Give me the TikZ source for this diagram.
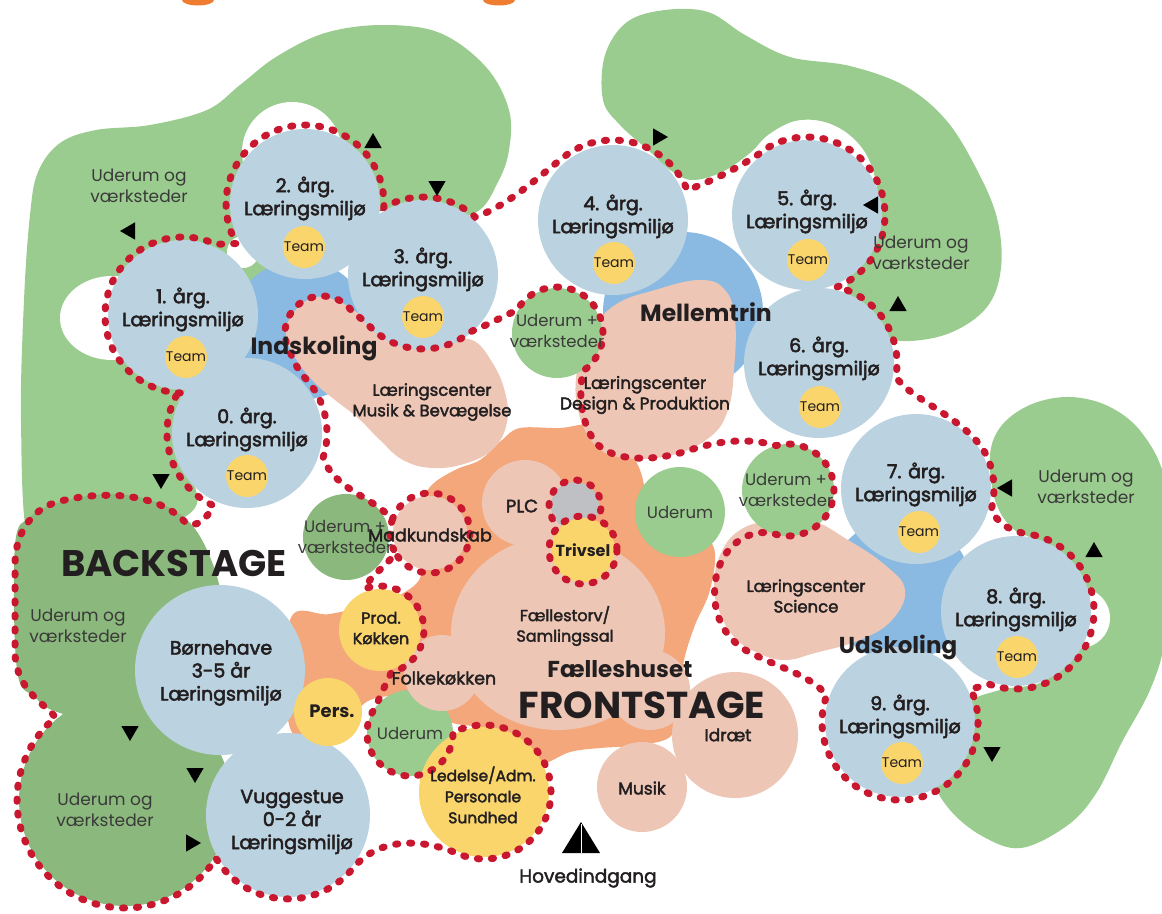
\documentclass[tikz,border=0pt]{standalone}
\usepackage{fontspec}
\setmainfont{Poppins}
\newfontfamily\medfont{Poppins}[FakeBold=2.2]
\newfontfamily\semifont{Poppins}[FakeBold=2.8]
\usetikzlibrary{calc,shapes.geometric}
\definecolor{lgreen}{HTML}{9BCC8F}
\definecolor{dgreen}{HTML}{8BB87D}
\definecolor{cblue}{HTML}{BBD2E0}
\definecolor{rblue}{HTML}{8ABAE2}
\definecolor{lpink}{HTML}{EDC6B5}
\definecolor{lorange}{HTML}{F3A77B}
\definecolor{lyellow}{HTML}{F9D56B}
\definecolor{dotred}{HTML}{C8172F}
\definecolor{lgray}{HTML}{BEC0C3}
\definecolor{txt}{HTML}{231F20}
\definecolor{txtg}{HTML}{3A3A39}
\definecolor{topor}{HTML}{EF7D31}
\newcommand\fsz[2]{\fontsize{#1}{#2}\selectfont}
\begin{document}
\begin{tikzpicture}[x=1pt,y=1pt,yscale=-1,
  dots/.style={draw=dotred, line width=7pt, line cap=round, dash pattern=on 2.2pt off 11.8pt},
  lbl/.style={align=center, inner sep=0pt, text=txt},
  cls/.style={lbl, font=\semifont\fsz{19}{23}},
  team/.style={lbl, font=\fsz{14}{16}},
  ud/.style={align=center, inner sep=0pt, text=txtg, font=\fsz{17}{21}},
  reg/.style={lbl, font=\bfseries\fsz{23.5}{26}},
  stage/.style={lbl, font=\bfseries\fsz{37}{40}},
  med/.style={lbl, font=\medfont\fsz{17}{20.5}},
  tri/.style={regular polygon, regular polygon sides=3, fill=black, minimum size=20pt, inner sep=0pt, draw=none}
]
\useasboundingbox (0,0) rectangle (1162,913);
\clip (0,0) rectangle (1162,913);

% coordinates
\coordinate (c0) at (247,433);
\coordinate (c1) at (183,315);
\coordinate (c2) at (305,204);
\coordinate (c3) at (423,275);
\coordinate (c4) at (613,220);
\coordinate (c5) at (807,215);
\coordinate (c6) at (819,363);
\coordinate (c7) at (916,489);
\coordinate (c8) at (1016,611);
\coordinate (c9) at (900,722);
\coordinate (ur) at (788,490);
\coordinate (ut) at (557,333);
\coordinate (mb) at (322,333);
\coordinate (mk) at (430,533);
\coordinate (pk) at (380,630);
\coordinate (ud) at (410,733);
\coordinate (le) at (484,792);
\coordinate (vu) at (288,815);
\coordinate (bh) at (220,670);
\coordinate (bs) at (125,800);
\coordinate (tv) at (583,550);
\coordinate (gr) at (575,506);

% orange bits at top
\fill[topor] (198,0) ellipse[x radius=16, y radius=5.5];
\fill[topor] (499,0) ellipse[x radius=16, y radius=5.5];

% green blobs
\fill[lgreen] plot[smooth cycle, tension=0.6] coordinates {(28,540) (21,420) (24,300) (30,215) (38,172) (60,143) (96,130) (150,125) (207,110) (240,85) (276,57) (325,33) (383,25) (440,33) (486,67) (509,110) (509,150) (498,182) (475,213) (420,222) (384,210) (345,240) (300,300) (250,340) (195,420) (192,470) (195,508) (150,530) (60,545)};
\fill[lgreen] plot[smooth cycle, tension=0.6] coordinates {(603,100) (605,55) (627,22) (665,10) (708,12) (745,35) (790,57) (850,66) (905,86) (946,120) (976,168) (997,218) (1001,268) (987,307) (950,333) (903,341) (872,330) (850,300) (850,270) (870,240) (878,200) (870,162) (852,137) (825,122) (795,121) (768,135) (750,153) (722,172) (692,180) (670,170) (648,150) (620,125)};
\fill[lgreen] plot[smooth cycle, tension=0.6] coordinates {(990,455) (1002,425) (1032,404) (1071,397) (1110,407) (1142,433) (1165,480) (1172,560) (1165,640) (1150,690) (1122,742) (1097,792) (1068,825) (1021,848) (982,836) (950,810) (935,780) (950,745) (965,705) (1000,690) (1045,680) (1060,640) (1060,590) (1040,545) (1012,528) (995,500)};

% white notches
\fill[white] (112,318) ellipse[x radius=52, y radius=42];
\fill[white] (292,152) circle[radius=50];
\fill[white] (243,252) circle[radius=16];
\fill[white] (1080,618) circle[radius=30];

% dark green backstage
\fill[dgreen] plot[smooth cycle, tension=0.6] coordinates {(15,545) (30,517) (57,503) (107,494) (150,500) (185,518) (207,550) (222,600) (226,680) (215,745) (150,735) (60,713) (35,697) (17,670)};
\fill[dgreen] (bs) circle[radius=106];

% blue regions
\fill[rblue] (300,330) circle[radius=70];
\fill[rblue] (683,312) circle[radius=80];
\fill[rblue] (900,590) circle[radius=72];

% orange centre
\fill[lorange] plot[smooth cycle, tension=0.6] coordinates {(290,620) (330,614) (380,603) (405,592) (420,578) (423,550) (418,515) (430,487) (455,470) (480,460) (502,440) (520,428) (560,428) (595,425) (625,447) (640,470) (655,520) (690,528) (714,548) (710,590) (695,625) (684,660) (678,700) (672,735) (640,745) (600,748) (570,752) (540,764) (520,748) (480,728) (450,722) (410,700) (370,700) (330,735) (290,728)};

% pink blobs
\fill[lpink] plot[smooth cycle, tension=0.7] coordinates {(290,318) (312,298) (340,302) (370,322) (405,345) (445,343) (472,340) (492,362) (505,392) (507,422) (494,448) (467,463) (433,468) (403,460) (380,440) (358,418) (335,400) (315,383) (298,362) (287,340)};
\fill[lpink] plot[smooth cycle, tension=0.7] coordinates {(577,370) (588,335) (615,305) (655,290) (700,280) (725,290) (735,320) (734,370) (728,410) (710,437) (672,455) (625,458) (595,445) (578,410)};
\fill[lpink] plot[smooth cycle, tension=0.7] coordinates {(721,553) (740,530) (770,521) (810,520) (848,540) (885,565) (905,590) (892,620) (860,640) (815,653) (785,660) (758,653) (735,638) (720,613) (714,585)};
\fill[lpink] (525,503) circle[radius=43];
\fill[lpink] (558,633) ellipse[x radius=107, y radius=97];
\fill[lpink] (650,690) circle[radius=40];
\fill[lpink] (735,735) circle[radius=63];
\fill[lpink] (642,787) circle[radius=45];
\fill[lpink] (mk) circle[radius=37];

% green circles
\fill[lgreen] (ut) circle[radius=45];
\fill[lgreen] (ur) circle[radius=46];
\fill[lgreen] (680,512) circle[radius=45];
\fill[dgreen] (346,537) circle[radius=43];
\fill[lgreen] (ud) circle[radius=43];
\fill[lpink] (442,673) circle[radius=38];

% classroom circles
\foreach \c in {c0,c1,c2,c3,c4,c5,c6,c7,c8,c9} \fill[cblue] (\c) circle[radius=75];
\fill[cblue] (bh) circle[radius=85];
\fill[cblue] (vu) circle[radius=82];

% yellow / gray circles
\fill[lgray] (gr) circle[radius=24];
\fill[lyellow] (tv) circle[radius=32];
\fill[lyellow] (pk) circle[radius=41];
\fill[lyellow] (328,712) circle[radius=34];
\fill[lyellow] (le) circle[radius=65];
\node[team, circle, fill=lyellow, minimum size=42pt] (tm1) at (186,357) {Team};
\node[team, circle, fill=lyellow, minimum size=42pt] (tm2) at (304,247) {Team};
\node[team, circle, fill=lyellow, minimum size=42pt] (tm3) at (423,317) {Team};
\node[team, circle, fill=lyellow, minimum size=42pt] (tm0) at (247,476) {Team};
\node[team, circle, fill=lyellow, minimum size=42pt] (tm4) at (614,263) {Team};
\node[team, circle, fill=lyellow, minimum size=42pt] (tm5) at (808,260) {Team};
\node[team, circle, fill=lyellow, minimum size=42pt] (tm6) at (820,407) {Team};
\node[team, circle, fill=lyellow, minimum size=42pt] (tm7) at (919,532) {Team};
\node[team, circle, fill=lyellow, minimum size=42pt] (tm8) at (1017,657) {Team};
\node[team, circle, fill=lyellow, minimum size=42pt] (tm9) at (902,763) {Team};

% dotted boundary
\draw[dots]
 ($(c1)+(92:78)$) arc[start angle=92, end angle=295, radius=78]
 -- ($(c2)+(150:79)$) arc[start angle=150, end angle=362.5, radius=79]
 -- ($(c3)+(240:78)$) arc[start angle=240, end angle=312, radius=78]
 .. controls (510,205) and (540,175) .. ($(c4)+(235:80)$) arc[start angle=235, end angle=338, radius=80]
 .. controls (710,182) and (745,165) .. ($(c5)+(240:78)$) arc[start angle=240, end angle=427.5, radius=78]
 -- ($(c6)+(283:78)$) arc[start angle=283, end angle=370, radius=78]
 .. controls (908,398) and (960,415) .. ($(c7)+(330:78)$) arc[start angle=330, end angle=375, radius=78]
 .. controls (996,522) and (1010,532) .. ($(c8)+(280:78)$) arc[start angle=280, end angle=470, radius=78]
 -- ($(c9)+(-25:78)$) arc[start angle=-25, end angle=200, radius=78]
 .. controls (810,675) and (780,668) .. (755,655)
 .. controls (725,642) and (712,615) .. (715,585)
 .. controls (718,550) and (745,528) .. ($(ur)+(110:46)$) arc[start angle=110, end angle=-105, radius=46]
 .. controls (750,438) and (720,440) .. (690,450)
 .. controls (660,460) and (625,462) .. (605,450)
 .. controls (585,440) and (576,400) .. ($(ut)+(55:46)$) arc[start angle=55, end angle=-150, radius=46]
 .. controls (500,318) and (485,326) .. ($(c3)+(50:74)$) arc[start angle=50, end angle=140, radius=74]
 -- ($(mb)+(325:37)$) arc[start angle=325, end angle=150, radius=37]
 .. controls (293,360) and (298,370) .. ($(c0)+(315:80)$) arc[start angle=315, end angle=378, radius=80]
 .. controls (335,490) and (370,495) .. ($(mk)+(200:40)$) arc[start angle=200, end angle=150, radius=40]
 .. controls (385,568) and (370,575) .. ($(pk)+(250:44)$) arc[start angle=250, end angle=435, radius=44]
 .. controls (385,685) and (380,697) .. ($(ud)+(215:43)$) arc[start angle=215, end angle=0, radius=43]
 -- ($(le)+(242:67)$) arc[start angle=242, end angle=475, radius=67]
 .. controls (425,840) and (380,835) .. ($(vu)+(40:84)$) arc[start angle=40, end angle=149, radius=84]
 -- ($(bs)+(32.5:108)$) arc[start angle=32.5, end angle=230, radius=108]
 .. controls (40,700) and (18,690) .. (15,655)
 -- (15,565)
 .. controls (15,530) and (35,505) .. (65,500)
 .. controls (110,490) and (160,495) .. (185,522)
 .. controls (195,530) and (208,518) .. ($(c0)+(115:80)$) arc[start angle=115, end angle=211, radius=80]
 -- cycle;
\draw[dots] ($(mk)+(200:40)$) arc[start angle=200, end angle=510, radius=40];
\draw[dots] (tv) circle[radius=34];
\draw[dots] ($(gr)+(150:26)$) arc[start angle=150, end angle=390, radius=26];

% arrow triangles
\node[tri] (a1) at (373,143) {};
\node[tri, shape border rotate=180] (a2) at (437,186) {};
\node[tri, shape border rotate=90] (a3) at (130,231) {};
\node[tri, shape border rotate=180] (a4) at (161,479) {};
\node[tri, shape border rotate=-90] (a5) at (658,137) {};
\node[tri, shape border rotate=90] (a6) at (873,205) {};
\node[tri] (a7) at (898,306) {};
\node[tri, shape border rotate=90] (a8) at (1007,488) {};
\node[tri] (a9) at (1094,552) {};
\node[tri, shape border rotate=180] (a10) at (992,752) {};
\node[tri, shape border rotate=180] (a11) at (130,731) {};
\node[tri, shape border rotate=180] (a12) at (195,773) {};
\node[tri, shape border rotate=-90] (a13) at (191,843) {};
\fill[black] (562,853) -- (581,822) -- (600,853) -- cycle;
\draw[white, line width=0.8pt] (581,824) -- (581,853);

% texts
\node[ud] (u1) at (139,186) {Uderum og\\værksteder};
\node[ud] (u2) at (921,253) {Uderum og\\værksteder};
\node[ud] (u3) at (1086,487) {Uderum og\\værksteder};
\node[ud] (u4) at (78,626) {Uderum og\\værksteder};
\node[ud] (u5) at (105,810) {Uderum og\\værksteder};
\node[ud, font=\fsz{16.5}{21}] (p1) at (557,331) {Uderum +\\værksteder};
\node[ud, font=\fsz{16.5}{21}] (p2) at (786,490) {Uderum +\\værksteder};
\node[ud, font=\fsz{16.5}{21}] (p3) at (345,537) {Uderum +\\værksteder};
\node[ud, font=\fsz{16.5}{20}] (uc1) at (680,512) {Uderum};
\node[ud, font=\fsz{16.5}{20}] (uc2) at (410,733) {Uderum};

\node[cls] (l1) at (183,309.5) {1. årg.\\Læringsmiljø};
\node[cls] (l2) at (305,198.5) {2. årg.\\Læringsmiljø};
\node[cls] (l3) at (423,269.5) {3. årg.\\Læringsmiljø};
\node[cls] (l0) at (247,429.5) {0. årg.\\Læringsmiljø};
\node[cls] (l4) at (613,216.5) {4. årg.\\Læringsmiljø};
\node[cls] (l5) at (807,211.5) {5. årg.\\Læringsmiljø};
\node[cls] (l6) at (819,358.5) {6. årg.\\Læringsmiljø};
\node[cls] (l7) at (916,484.5) {7. årg.\\Læringsmiljø};
\node[cls] (l8) at (1016,609.5) {8. årg.\\Læringsmiljø};
\node[cls] (l9) at (900,716.5) {9. årg.\\Læringsmiljø};
\node[cls] (bn) at (221,673) {Børnehave\\3-5 år\\Læringsmiljø};
\node[cls] (vg) at (292,822) {Vuggestue\\0-2 år\\Læringsmiljø};

\node[reg] (ind) at (314,348) {Indskoling};
\node[reg] (mel) at (706,312) {Mellemtrin};
\node[reg, font=\bfseries\fsz{23}{26}] (uds) at (898,647) {Udskoling};
\node[stage] (bst) at (174,563) {BACKSTAGE};
\node[stage, font=\bfseries\fsz{37.5}{40}] (fst) at (642,705) {FRONTSTAGE};
\node[lbl, font=\bfseries\fsz{23}{26}] (fh) at (620,669) {Fælleshuset};

\node[med, font=\medfont\fsz{16.5}{20.5}] (lcm) at (432,402) {Læringscenter\\Musik \& Bevægelse};
\node[med] (lcd) at (645,395) {Læringscenter\\Design \& Produktion};
\node[med, font=\medfont\fsz{16.5}{20.5}] (lcs) at (806,596) {Læringscenter\\Science};
\node[med, font=\medfont\fsz{17.5}{20}] (mad) at (430,535) {Madkundskab};
\node[med, font=\medfont\fsz{18}{20}] (plc) at (522,506) {PLC};
\node[lbl, font=\bfseries\fsz{16}{20}] (trv) at (583,550) {Trivsel};
\node[med, font=\medfont\fsz{16}{20.5}] (prd) at (381,628) {Prod.\\Køkken};
\node[lbl, font=\bfseries\fsz{18}{20}] (prs) at (332,711) {Pers.};
\node[med, font=\medfont\fsz{16}{20.5}] (fts) at (565,626) {Fællestorv/\\Samlingssal};
\node[med] (idr) at (728,735) {Idræt};
\node[med] (mus) at (642,788) {Musik};
\node[med, font=\medfont\fsz{17.5}{20}] (fkk) at (444,678) {Folkekøkken};
\node[med, font=\medfont\fsz{15.5}{21}] (led) at (483,795) {Ledelse/Adm.\\Personale\\Sundhed};
\node[med, font=\medfont\fsz{18.5}{20}] (hov) at (588,878) {Hovedindgang};
\end{tikzpicture}
\end{document}
